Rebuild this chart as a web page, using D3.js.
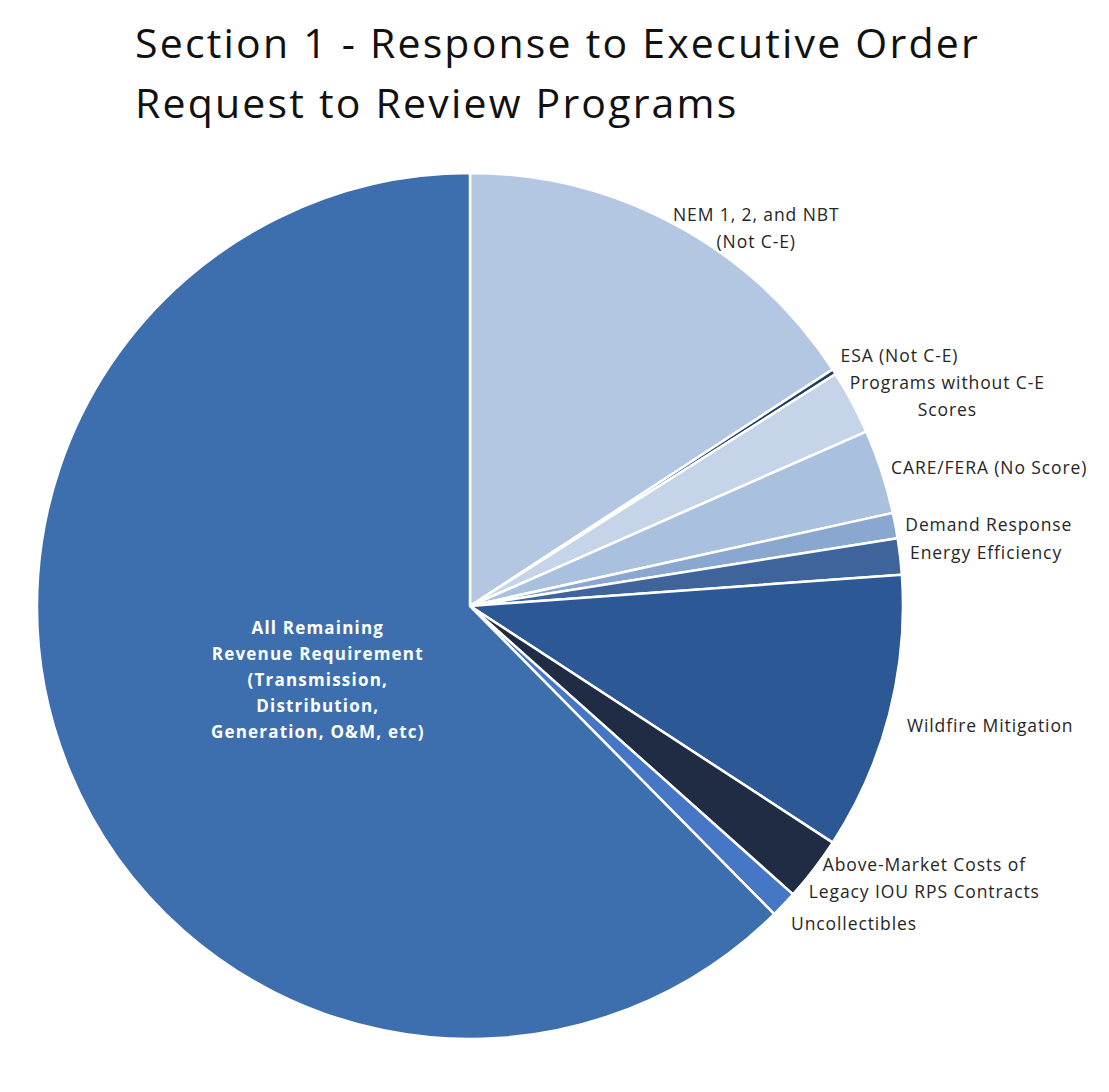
<!DOCTYPE html>
<html>
<head>
<meta charset="utf-8">
<script src="https://cdn.jsdelivr.net/npm/d3@7"></script>
<style>
  body { margin: 0; background: #fff; }
  svg { display: block; }
</style>
</head>
<body>
<svg id="chart" width="1109" height="1092"></svg>
<script>
// data (share of revenue requirement, %)
const categories = [
    "NEM 1, 2, and NBT|(Not C-E)",
    "ESA (Not C-E)",
    "Programs without C-E|Scores",
    "CARE/FERA (No Score)",
    "Demand Response",
    "Energy Efficiency",
    "Wildfire Mitigation",
    "Above-Market Costs of|Legacy IOU RPS Contracts",
    "Uncollectibles",
    "All Remaining|Revenue Requirement|(Transmission,|Distribution,|Generation, O&M, etc)"
];
const values = [15.8, 0.2, 2.4, 3.15, 0.95, 1.35, 10.35, 2.4, 1.0, 62.4];
const colors = ["#b4c7e2", "#243f5e", "#c6d4e9", "#a9c0de", "#8aa7cf", "#3f649b", "#2c5896", "#1f2c43", "#4676c6", "#3d6fae"];
const titleLines = ["Section 1 - Response to Executive Order", "Request to Review Programs"];

const svg = d3.select("#chart");
const cx = 470, cy = 606, radius = 433;

svg.append("g")
    .selectAll("text")
    .data(titleLines)
    .join("text")
    .attr("x", 135)
    .attr("y", (d, i) => 58 + i * 60)
    .attr("font-family", "Open Sans, sans-serif")
    .attr("font-size", 41)
    .attr("letter-spacing", 2.2)
    .attr("fill", "#111")
    .text(d => d);

const data = categories.map((c, i) => ({ key: c, value: values[i], color: colors[i] }));
const pie = d3.pie().value(d => d.value).sort(null);
const arcs = pie(data);
const arc = d3.arc().innerRadius(0).outerRadius(radius);

const g = svg.append("g").attr("transform", `translate(${cx}, ${cy})`);

g.selectAll(".slice")
    .data(arcs)
    .join("path")
    .attr("class", "slice")
    .attr("d", arc)
    .attr("fill", d => d.data.color)
    .attr("stroke", "#fff")
    .attr("stroke-width", 2.5)
    .attr("stroke-linejoin", "round");

// outside labels (all but the big slice); small nudges to follow the original layout
const labelNudge = [[-8, 12], [-2, -10], [-11, -1], [0, -1], [0, 1], [0, -2], [8, 9], [-13, 3], [0, 13]];
const lineH = 27;

arcs.slice(0, arcs.length - 1).forEach((d, i) => {
    const a = (d.startAngle + d.endAngle) / 2;
    const px = Math.sin(a) * (radius + 10) + labelNudge[i][0];
    const py = -Math.cos(a) * (radius + 10) + labelNudge[i][1];
    const lines = d.data.key.split("|");
    const t = g.append("text")
        .attr("font-family", "Open Sans, sans-serif")
        .attr("font-size", 17.5)
        .attr("letter-spacing", 0.9)
        .attr("fill", "#262626")
        .attr("text-anchor", "middle");
    lines.forEach((l, j) => {
        t.append("tspan")
            .attr("x", 0)
            .attr("y", py + (j - (lines.length - 1) / 2) * lineH)
            .attr("dy", "0.35em")
            .text(l);
    });
    const w = t.node().getBBox().width;
    t.selectAll("tspan").attr("x", px + w / 2);
});

// inner label for the big slice
const big = arcs[arcs.length - 1];
const ba = (big.startAngle + big.endAngle) / 2;
const bx = Math.sin(ba) * radius * 0.38;
const by = -Math.cos(ba) * radius * 0.38 + 12;
const bigLines = big.data.key.split("|");
const bt = g.append("text")
    .attr("font-family", "Open Sans, sans-serif")
    .attr("font-size", 17)
    .attr("font-weight", "bold")
    .attr("letter-spacing", 1.2)
    .attr("fill", "#fff")
    .attr("text-anchor", "middle");
bigLines.forEach((l, j) => {
    bt.append("tspan")
        .attr("x", bx)
        .attr("y", by + (j - (bigLines.length - 1) / 2) * 26)
        .attr("dy", "0.35em")
        .text(l);
});
</script>
</body>
</html>
